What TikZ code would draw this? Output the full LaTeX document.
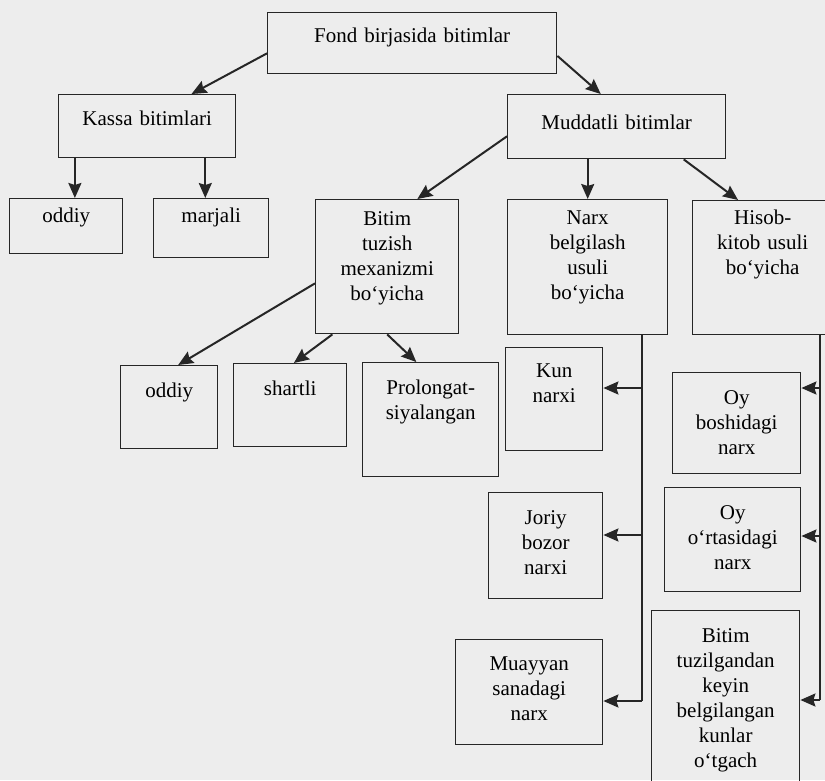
\documentclass[tikz,border=0pt]{standalone}
\usepackage{fontspec}
\setmainfont{Liberation Serif}
\usetikzlibrary{arrows.meta}

\begin{document}
\begin{tikzpicture}[x=1pt, y=-1pt, >={Stealth[length=15pt, width=13pt, inset=2pt]},
    cell/.style n args={3}{draw=black!85, line width=1.4pt, align=center,
      inner sep=0pt, anchor=north west, text width=#1, text height=#2,
      text depth=#3, font=\fontsize{21}{25}\selectfont},
    link/.style={->, black!85, line width=2pt},
    bus/.style={draw=black!85, line width=1.5pt}]
    \useasboundingbox (0,0) rectangle (825,780);
    \fill[black!7] (0,0) rectangle (825,780);
    \clip (0,0) rectangle (825,780);

    % top levels
    \node[cell={289pt}{30pt}{31pt}] (fond) at (267,12) {Fond birjasida bitimlar};
    \node[cell={177pt}{31pt}{32pt}] (kassa) at (58,94) {Kassa bitimlari};
    \node[cell={218pt}{35pt}{29pt}] (muddatli) at (507,94) {Muddatli bitimlar};

    \node[cell={113pt}{24pt}{31pt}] (oddiyA) at (9,198) {oddiy};
    \node[cell={115pt}{24pt}{35pt}] (marjali) at (153,198) {marjali};
    \node[cell={143pt}{26pt}{108pt}] (bitimA) at (315,199) {Bitim\\tuzish\\mexanizmi\\bo‘yicha};
    \node[cell={160pt}{25pt}{110pt}] (narx) at (507,199) {Narx\\belgilash\\usuli\\bo‘yicha};
    \node[cell={140pt}{24pt}{110pt}] (hisob) at (692,200) {Hisob-\\kitob usuli\\bo‘yicha};

    % by mechanism
    \node[cell={97pt}{32pt}{51pt}] (oddiyB) at (120,365) {oddiy};
    \node[cell={113pt}{32pt}{51pt}] (shartli) at (233,363) {shartli};
    \node[cell={136pt}{32pt}{82pt}] (prolong) at (362,362) {Prolongat-\\siyalangan};

    % by price
    \node[cell={97pt}{30pt}{73pt}] (kun) at (505,347) {Kun\\narxi};
    \node[cell={114pt}{32pt}{74pt}] (joriy) at (488,492) {Joriy\\bozor\\narxi};
    \node[cell={147pt}{31pt}{74pt}] (muayyan) at (455,639) {Muayyan\\sanadagi\\narx};

    % by settlement
    \node[cell={128pt}{32pt}{69pt}] (oyA) at (672,372) {Oy\\boshidagi\\narx};
    \node[cell={136pt}{32pt}{72pt}] (oyB) at (664,487) {Oy\\o‘rtasidagi\\narx};
    \node[cell={148pt}{32pt}{158pt}] (keyin) at (651,610) {Bitim\\tuzilgandan\\keyin\\belgilangan\\kunlar\\o‘tgach};

    \path[link] (fond.184) edge (kassa.36.5)
                (fond.355) edge (muddatli.116.6)
                (kassa.204) edge (kassa.204 |- oddiyA.north)
                (kassa.331) edge (kassa.331 |- marjali.north)
                (muddatli.185.8) edge (bitimA.66.2)
                (muddatli.south -| narx.north) edge (narx.north)
                (muddatli.334.8) edge (hisob.110.5)
                (bitimA.193.4) edge (oddiyB.78.4)
                (bitimA.231.4) edge (shartli.85.2)
                (bitimA.south) edge (prolong.104.7);

    % side lines
    \coordinate (nk) at (642,388);
    \coordinate (nj) at (642,535);
    \coordinate (nm) at (642,701);
    \coordinate (ho) at (820,388);
    \coordinate (hr) at (820,536);
    \coordinate (hk) at (820,700);
    \path[bus] (narx.south -| nk) -- (nm);
    \path[bus] (hisob.south -| ho) -- (hk);
    \path[link] (nk) edge (nk -| kun.east)
                (nj) edge (nj -| joriy.east)
                (nm) edge (nm -| muayyan.east)
                (ho) edge (ho -| oyA.east)
                (hr) edge (hr -| oyB.east)
                (hk) edge (hk -| keyin.east);
\end{tikzpicture}
\end{document}
